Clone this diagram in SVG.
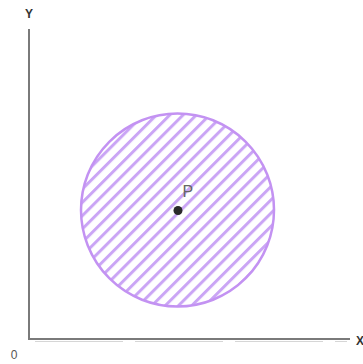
<svg xmlns="http://www.w3.org/2000/svg" width="363" height="364" viewBox="0 0 363 364">
<style>
.axis{stroke:#7a7a7a;stroke-width:2;fill:none}
.lbl{font-family:"Liberation Sans",Arial,sans-serif}
</style>
<defs>
<pattern id="hatch" patternUnits="userSpaceOnUse" width="9.4" height="9.4" patternTransform="translate(178,211) rotate(45)">
<rect x="0" y="0" width="3" height="9.4" fill="#caa5f5"/>
</pattern>
</defs>
<rect width="363" height="364" fill="#ffffff"/>
<g id="connectors">
<polyline class="axis" points="29,29 29,339 350,339"/>
<line x1="35" y1="341.5" x2="347" y2="341.5" stroke="#d6d6d6" stroke-width="1" stroke-dasharray="88,12"/>
</g>
<g id="region">
<circle cx="177.5" cy="210" r="96.5" fill="url(#hatch)"/>
<circle cx="177.5" cy="210" r="96.5" fill="none" stroke="#c392f2" stroke-width="2.5"/>
</g>
<g id="point-P">
<circle cx="178" cy="210.5" r="4.5" fill="#2b2b2b"/>
<text class="lbl" x="182.5" y="197" font-size="16" fill="#666">P</text>
</g>
<g id="labels">
<text class="lbl" x="29" y="18" font-size="12" font-weight="bold" text-anchor="middle" fill="#333">Y</text>
<text class="lbl" x="356" y="345" font-size="12" font-weight="bold" fill="#333">X</text>
<text class="lbl" x="14" y="359" font-size="12" text-anchor="middle" fill="#555">0</text>
</g>
</svg>
